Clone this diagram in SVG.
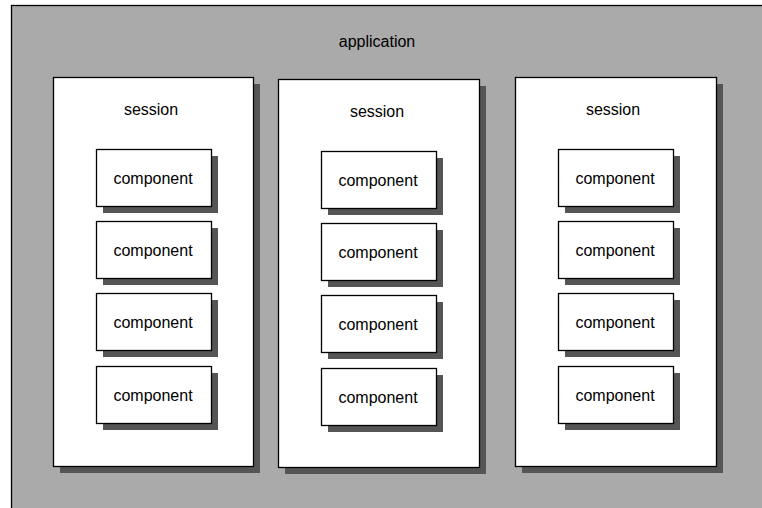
<svg xmlns="http://www.w3.org/2000/svg" width="762" height="508" viewBox="0 0 762 508">
<style>
.box{fill:#ffffff;stroke:#000000;stroke-width:1.3}
.sh{fill:#555555}
.t{font-family:"Liberation Sans",Arial,sans-serif;font-size:16px;fill:#000000;text-anchor:middle}
</style>
<rect x="0" y="0" width="762" height="508" fill="#ffffff"/>
<g id="application">
<rect x="11.5" y="5.5" width="800" height="600" fill="#aaaaaa" stroke="#000000" stroke-width="1.3"/>
<text class="t" x="377" y="47">application</text>
</g>
<g id="session1">
<rect class="sh" x="60" y="84" width="200" height="389"/>
<rect class="box" x="53.5" y="77.5" width="200" height="389"/>
<text class="t" x="151" y="115">session</text>
</g>
<g id="session2">
<rect class="sh" x="285" y="86" width="201" height="388"/>
<rect class="box" x="278.5" y="79.5" width="201" height="388"/>
<text class="t" x="377" y="117">session</text>
</g>
<g id="session3">
<rect class="sh" x="522" y="84" width="201" height="389"/>
<rect class="box" x="515.5" y="77.5" width="201" height="389"/>
<text class="t" x="613" y="115">session</text>
</g>
<g id="s1c1"><rect class="sh" x="103" y="156" width="115" height="57"/><rect class="box" x="96.5" y="149.5" width="115" height="57"/><text class="t" x="153" y="184">component</text></g>
<g id="s1c2"><rect class="sh" x="103" y="228" width="115" height="57"/><rect class="box" x="96.5" y="221.5" width="115" height="57"/><text class="t" x="153" y="256">component</text></g>
<g id="s1c3"><rect class="sh" x="103" y="300" width="115" height="57"/><rect class="box" x="96.5" y="293.5" width="115" height="57"/><text class="t" x="153" y="328">component</text></g>
<g id="s1c4"><rect class="sh" x="103" y="373" width="115" height="57"/><rect class="box" x="96.5" y="366.5" width="115" height="57"/><text class="t" x="153" y="401">component</text></g>
<g id="s2c1"><rect class="sh" x="328" y="158" width="115" height="57"/><rect class="box" x="321.5" y="151.5" width="115" height="57"/><text class="t" x="378" y="186">component</text></g>
<g id="s2c2"><rect class="sh" x="328" y="230" width="115" height="57"/><rect class="box" x="321.5" y="223.5" width="115" height="57"/><text class="t" x="378" y="258">component</text></g>
<g id="s2c3"><rect class="sh" x="328" y="302" width="115" height="57"/><rect class="box" x="321.5" y="295.5" width="115" height="57"/><text class="t" x="378" y="330">component</text></g>
<g id="s2c4"><rect class="sh" x="328" y="375" width="115" height="57"/><rect class="box" x="321.5" y="368.5" width="115" height="57"/><text class="t" x="378" y="403">component</text></g>
<g id="s3c1"><rect class="sh" x="565" y="156" width="115" height="57"/><rect class="box" x="558.5" y="149.5" width="115" height="57"/><text class="t" x="615" y="184">component</text></g>
<g id="s3c2"><rect class="sh" x="565" y="228" width="115" height="57"/><rect class="box" x="558.5" y="221.5" width="115" height="57"/><text class="t" x="615" y="256">component</text></g>
<g id="s3c3"><rect class="sh" x="565" y="300" width="115" height="57"/><rect class="box" x="558.5" y="293.5" width="115" height="57"/><text class="t" x="615" y="328">component</text></g>
<g id="s3c4"><rect class="sh" x="565" y="373" width="115" height="57"/><rect class="box" x="558.5" y="366.5" width="115" height="57"/><text class="t" x="615" y="401">component</text></g>
<g id="connectors"></g>
</svg>
